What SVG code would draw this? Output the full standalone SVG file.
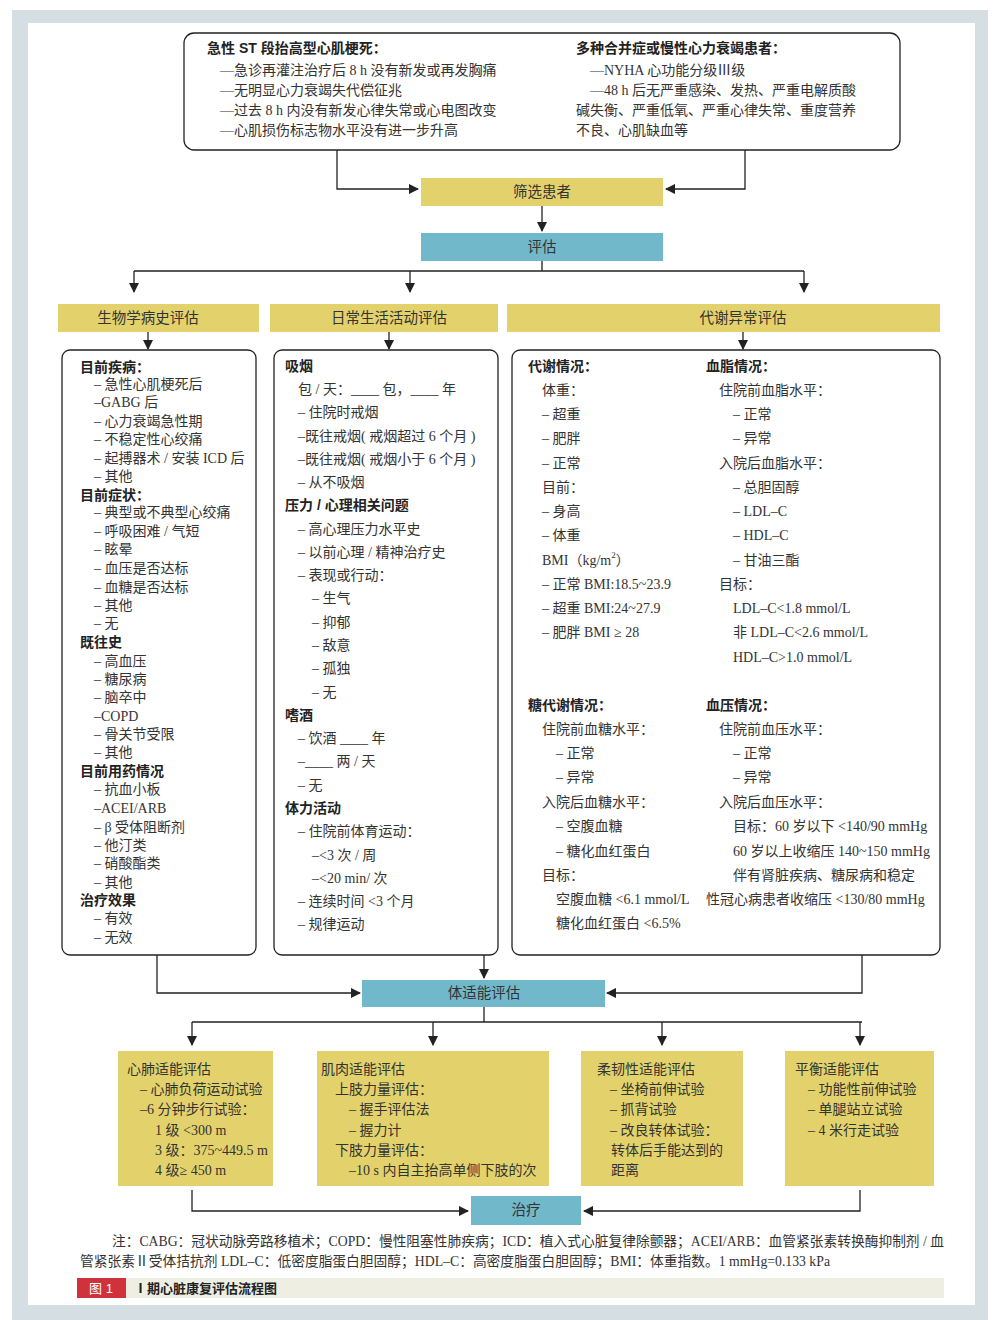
<svg xmlns="http://www.w3.org/2000/svg" width="996" height="1320" viewBox="0 0 996 1320">
<style>
text{font-family:"Liberation Serif","Noto Sans CJK SC",serif;font-size:14px;fill:#333;dominant-baseline:central}
.h{font-family:"Liberation Sans","Noto Sans CJK SC",sans-serif;font-weight:bold;fill:#222}
.c{text-anchor:middle;font-size:14.5px}
.y{fill:#E3D26C}
.b{fill:#72B8CB}
.box{fill:#fff;stroke:#222;stroke-width:1.3}
.ln{fill:none;stroke:#222;stroke-width:1.3}
</style>
<defs><marker id="a" viewBox="0 0 10 10" refX="9" refY="5" markerWidth="8" markerHeight="8" orient="auto"><path d="M0,0 L10,5 L0,10z" fill="#222"/></marker></defs>
<rect x="0" y="0" width="996" height="1320" fill="#fff"/>
<rect x="12" y="10" width="976" height="1310" fill="#D5DEE3"/>
<rect x="28" y="23" width="947" height="1282" fill="#fff"/>

<g id="top">
<rect class="box" x="184" y="33" width="716" height="117" rx="10"/>
<text class="h" x="207" y="48">急性 ST 段抬高型心肌梗死：</text>
<text x="220" y="70">—急诊再灌注治疗后 8 h 没有新发或再发胸痛</text>
<text x="220" y="90">—无明显心力衰竭失代偿征兆</text>
<text x="220" y="110">—过去 8 h 内没有新发心律失常或心电图改变</text>
<text x="220" y="130">—心肌损伤标志物水平没有进一步升高</text>
<text class="h" x="576" y="48">多种合并症或慢性心力衰竭患者：</text>
<text x="590" y="70">—NYHA 心功能分级Ⅲ级</text>
<text x="590" y="90">—48 h 后无严重感染、发热、严重电解质酸</text>
<text x="576" y="110">碱失衡、严重低氧、严重心律失常、重度营养</text>
<text x="576" y="130">不良、心肌缺血等</text>
</g>
<g id="screen"><rect class="y" x="421" y="178" width="242" height="28"/><text class="c" x="542" y="192">筛选患者</text></g>
<g id="assess"><rect class="b" x="421" y="233" width="242" height="28"/><text class="c" x="542" y="247">评估</text></g>
<g id="h1"><rect class="y" x="58" y="304" width="201" height="28"/><text class="c" x="148" y="318">生物学病史评估</text></g>
<g id="h2"><rect class="y" x="270" y="304" width="228" height="28"/><text class="c" x="389" y="318">日常生活活动评估</text></g>
<g id="h3"><rect class="y" x="507" y="304" width="433" height="28"/><text class="c" x="743" y="318">代谢异常评估</text></g>

<g id="bio">
<rect class="box" x="62" y="350" width="194" height="605" rx="8"/>
<text class="h" x="80" y="367">目前疾病：</text>
<text x="94" y="384">– 急性心肌梗死后</text>
<text x="94" y="402">–GABG 后</text>
<text x="94" y="421">– 心力衰竭急性期</text>
<text x="94" y="439">– 不稳定性心绞痛</text>
<text x="94" y="458">– 起搏器术 / 安装 ICD 后</text>
<text x="94" y="476">– 其他</text>
<text class="h" x="80" y="495">目前症状：</text>
<text x="94" y="512">– 典型或不典型心绞痛</text>
<text x="94" y="531">– 呼吸困难 / 气短</text>
<text x="94" y="549">– 眩晕</text>
<text x="94" y="568">– 血压是否达标</text>
<text x="94" y="587">– 血糖是否达标</text>
<text x="94" y="605">– 其他</text>
<text x="94" y="623">– 无</text>
<text class="h" x="80" y="642">既往史</text>
<text x="94" y="661">– 高血压</text>
<text x="94" y="679">– 糖尿病</text>
<text x="94" y="697">– 脑卒中</text>
<text x="94" y="716">–COPD</text>
<text x="94" y="734">– 骨关节受限</text>
<text x="94" y="752">– 其他</text>
<text class="h" x="80" y="771">目前用药情况</text>
<text x="94" y="789">– 抗血小板</text>
<text x="94" y="808">–ACEI/ARB</text>
<text x="94" y="827">– β 受体阻断剂</text>
<text x="94" y="845">– 他汀类</text>
<text x="94" y="863">– 硝酸酯类</text>
<text x="94" y="882">– 其他</text>
<text class="h" x="80" y="900">治疗效果</text>
<text x="94" y="918">– 有效</text>
<text x="94" y="937">– 无效</text>
</g>

<g id="adl">
<rect class="box" x="274" y="350" width="224" height="605" rx="8"/>
<text class="h" x="285" y="366">吸烟</text>
<text x="298" y="389">包 / 天：____ 包，____ 年</text>
<text x="298" y="412">– 住院时戒烟</text>
<text x="298" y="436">–既往戒烟( 戒烟超过 6 个月 )</text>
<text x="298" y="459">–既往戒烟( 戒烟小于 6 个月 )</text>
<text x="298" y="482">– 从不吸烟</text>
<text class="h" x="285" y="505">压力 / 心理相关问题</text>
<text x="298" y="529">– 高心理压力水平史</text>
<text x="298" y="552">– 以前心理 / 精神治疗史</text>
<text x="298" y="575">– 表现或行动：</text>
<text x="312" y="598">– 生气</text>
<text x="312" y="622">– 抑郁</text>
<text x="312" y="645">– 敌意</text>
<text x="312" y="668">– 孤独</text>
<text x="312" y="692">– 无</text>
<text class="h" x="285" y="715">嗜酒</text>
<text x="298" y="738">– 饮酒 ____ 年</text>
<text x="298" y="761">–____ 两 / 天</text>
<text x="298" y="785">– 无</text>
<text class="h" x="285" y="808">体力活动</text>
<text x="298" y="831">– 住院前体育运动：</text>
<text x="312" y="855">–&lt;3 次 / 周</text>
<text x="312" y="878">–&lt;20 min/ 次</text>
<text x="298" y="901">– 连续时间 &lt;3 个月</text>
<text x="298" y="924">– 规律运动</text>
</g>

<g id="meta">
<rect class="box" x="512" y="350" width="428" height="605" rx="8"/>
<text class="h" x="528" y="366">代谢情况：</text>
<text x="542" y="390">体重：</text>
<text x="542" y="414">– 超重</text>
<text x="542" y="438">– 肥胖</text>
<text x="542" y="463">– 正常</text>
<text x="542" y="487">目前：</text>
<text x="542" y="511">– 身高</text>
<text x="542" y="535">– 体重</text>
<text x="542" y="560">BMI（kg/m<tspan font-size="9" dy="-5">2</tspan><tspan dy="5">）</tspan></text>
<text x="542" y="584">– 正常 BMI:18.5~23.9</text>
<text x="542" y="608">– 超重 BMI:24~27.9</text>
<text x="542" y="632">– 肥胖 BMI ≥ 28</text>
<text class="h" x="528" y="705">糖代谢情况：</text>
<text x="542" y="729">住院前血糖水平：</text>
<text x="556" y="753">– 正常</text>
<text x="556" y="777">– 异常</text>
<text x="542" y="802">入院后血糖水平：</text>
<text x="556" y="826">– 空腹血糖</text>
<text x="556" y="851">– 糖化血红蛋白</text>
<text x="542" y="875">目标：</text>
<text x="556" y="899">空腹血糖 &lt;6.1 mmol/L</text>
<text x="556" y="923">糖化血红蛋白 &lt;6.5%</text>
<text class="h" x="706" y="366">血脂情况：</text>
<text x="719" y="390">住院前血脂水平：</text>
<text x="733" y="414">– 正常</text>
<text x="733" y="438">– 异常</text>
<text x="719" y="463">入院后血脂水平：</text>
<text x="733" y="487">– 总胆固醇</text>
<text x="733" y="511">– LDL–C</text>
<text x="733" y="535">– HDL–C</text>
<text x="733" y="560">– 甘油三酯</text>
<text x="719" y="584">目标：</text>
<text x="733" y="608">LDL–C&lt;1.8 mmol/L</text>
<text x="733" y="632">非 LDL–C&lt;2.6 mmol/L</text>
<text x="733" y="657">HDL–C&gt;1.0 mmol/L</text>
<text class="h" x="706" y="705">血压情况：</text>
<text x="719" y="729">住院前血压水平：</text>
<text x="733" y="753">– 正常</text>
<text x="733" y="777">– 异常</text>
<text x="719" y="802">入院后血压水平：</text>
<text x="733" y="826">目标：60 岁以下 &lt;140/90 mmHg</text>
<text x="733" y="851">60 岁以上收缩压 140~150 mmHg</text>
<text x="733" y="875">伴有肾脏疾病、糖尿病和稳定</text>
<text x="706" y="899">性冠心病患者收缩压 &lt;130/80 mmHg</text>
</g>

<g id="fit"><rect class="b" x="362" y="980" width="243" height="27"/><text class="c" x="484" y="993">体适能评估</text></g>

<g id="f1"><rect class="y" x="118" y="1051" width="155" height="135"/>
<text x="127" y="1069">心肺适能评估</text>
<text x="140" y="1089">– 心肺负荷运动试验</text>
<text x="140" y="1109">–6 分钟步行试验：</text>
<text x="155" y="1130">1 级 &lt;300 m</text>
<text x="155" y="1150">3 级：375~449.5 m</text>
<text x="155" y="1170">4 级≥ 450 m</text></g>
<g id="f2"><rect class="y" x="317" y="1051" width="232" height="135"/>
<text x="321" y="1069">肌肉适能评估</text>
<text x="335" y="1089">上肢力量评估：</text>
<text x="349" y="1109">– 握手评估法</text>
<text x="349" y="1130">– 握力计</text>
<text x="335" y="1150">下肢力量评估：</text>
<text x="349" y="1170">–10 s 内自主抬高单侧下肢的次</text></g>
<g id="f3"><rect class="y" x="581" y="1051" width="162" height="135"/>
<text x="597" y="1069">柔韧性适能评估</text>
<text x="610" y="1089">– 坐椅前伸试验</text>
<text x="610" y="1109">– 抓背试验</text>
<text x="610" y="1130">– 改良转体试验：</text>
<text x="611" y="1150">转体后手能达到的</text>
<text x="611" y="1170">距离</text></g>
<g id="f4"><rect class="y" x="785" y="1051" width="149" height="135"/>
<text x="795" y="1069">平衡适能评估</text>
<text x="808" y="1089">– 功能性前伸试验</text>
<text x="808" y="1109">– 单腿站立试验</text>
<text x="808" y="1130">–  4 米行走试验</text></g>

<g id="treat"><rect class="b" x="471" y="1196" width="110" height="29"/><text class="c" x="526" y="1210">治疗</text></g>

<g id="connectors">
<path class="ln" d="M337,150 V189 H418" marker-end="url(#a)"/>
<path class="ln" d="M745,150 V189 H666" marker-end="url(#a)"/>
<path class="ln" d="M542,206 V231" marker-end="url(#a)"/>
<path class="ln" d="M542,261 V271 M134,271 H804"/>
<path class="ln" d="M134,271 V292" marker-end="url(#a)"/>
<path class="ln" d="M410,271 V292" marker-end="url(#a)"/>
<path class="ln" d="M804,271 V292" marker-end="url(#a)"/>
<path class="ln" d="M148,332 V349" marker-end="url(#a)"/>
<path class="ln" d="M389,332 V349" marker-end="url(#a)"/>
<path class="ln" d="M743,332 V349" marker-end="url(#a)"/>
<path class="ln" d="M157,955 V993 H360" marker-end="url(#a)"/>
<path class="ln" d="M862,955 V993 H607" marker-end="url(#a)"/>
<path class="ln" d="M484,955 V978" marker-end="url(#a)"/>
<path class="ln" d="M484,1007 V1022 M192,1022 H862"/>
<path class="ln" d="M192,1022 V1045" marker-end="url(#a)"/>
<path class="ln" d="M433,1022 V1045" marker-end="url(#a)"/>
<path class="ln" d="M662,1022 V1045" marker-end="url(#a)"/>
<path class="ln" d="M860,1022 V1045" marker-end="url(#a)"/>
<path class="ln" d="M192,1190 V1211 H468" marker-end="url(#a)"/>
<path class="ln" d="M860,1190 V1211 H584" marker-end="url(#a)"/>
</g>

<text x="112" y="1241" textLength="832" lengthAdjust="spacingAndGlyphs">注：CABG：冠状动脉旁路移植术；COPD：慢性阻塞性肺疾病；ICD：植入式心脏复律除颤器；ACEI/ARB：血管紧张素转换酶抑制剂 / 血</text>
<text x="80" y="1261" textLength="750" lengthAdjust="spacingAndGlyphs">管紧张素Ⅱ受体拮抗剂 LDL–C：低密度脂蛋白胆固醇；HDL–C：高密度脂蛋白胆固醇；BMI：体重指数。1 mmHg=0.133 kPa</text>
<rect x="77" y="1278" width="867" height="20" fill="#EEEEE2"/>
<rect x="77" y="1278" width="49" height="20" fill="#D0323C"/>
<text x="101" y="1288" text-anchor="middle" style="fill:#fff;font-family:'Liberation Sans','Noto Sans CJK SC',sans-serif;font-size:13px">图 1</text>
<text class="h" x="134" y="1288" style="font-size:13px">Ⅰ期心脏康复评估流程图</text>
</svg>
